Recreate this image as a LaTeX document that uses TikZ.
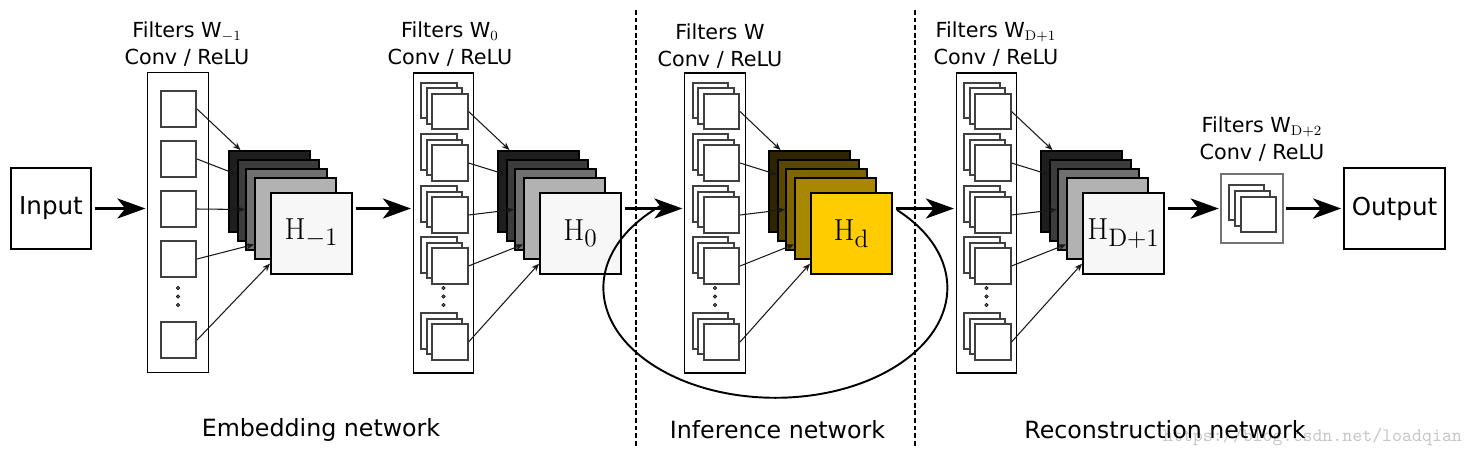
\documentclass[tikz,border=0pt]{standalone}
\usepackage{amssymb,amsmath}
\usepackage[no-math]{fontspec}
\setmainfont{DejaVu Sans}
\usepackage{tikz}
\usetikzlibrary{arrows,arrows.meta,shapes}
\definecolor{g1}{HTML}{1E1E1E}
\definecolor{g2}{HTML}{3C3C3C}
\definecolor{g3}{HTML}{707070}
\definecolor{g4}{HTML}{B2B2B2}
\definecolor{g5}{HTML}{F7F7F7}
\definecolor{y1}{HTML}{2E2500}
\definecolor{y2}{HTML}{5A4800}
\definecolor{y3}{HTML}{806600}
\definecolor{y4}{HTML}{A88800}
\definecolor{y5}{HTML}{FFCC00}
\tikzstyle{io}=[draw,line width=1.3pt,minimum height=1.62cm,inner sep=0pt,font=\fontsize{14}{16}\selectfont]
\tikzstyle{col}=[draw,line width=0.7pt,minimum width=1.21cm,minimum height=6cm,inner sep=0pt]
\tikzstyle{filt}=[draw=black!75,fill=white,line width=0.9pt,minimum size=0.71cm,inner sep=0pt]
\tikzstyle{fmap}=[draw,line width=1.1pt,minimum size=1.62cm,inner sep=0pt,font=\fontsize{19}{21}\selectfont]
\tikzstyle{lbl}=[align=center,inner sep=0pt,font=\fontsize{11.8}{15.3}\selectfont]
\tikzstyle{caption}=[inner sep=0pt,font=\fontsize{13.5}{16}\selectfont]
\tikzstyle{divider}=[draw,line width=0.8pt,dash pattern=on 2.8pt off 1.5pt]

\begin{document}
\begin{tikzpicture}[x=0.02cm,y=-0.02cm]
  \tikzset{flow/.style = {->,>={Stealth[length=16pt,width=11.5pt,inset=4.5pt]},line width=1.2pt,shorten <=1.5pt,shorten >=1pt},
           tap/.style = {->,>={Stealth[length=4.5pt,width=3.6pt]},line width=0.6pt,black!90}}
  \useasboundingbox[fill=white] (0,0) rectangle (1474,457);
  \node[text=black!22,font=\ttfamily\fontsize{10.8}{12}\selectfont] (url) at (1312.5,437) {https://blog.csdn.net/loadqian};
  % input and output
  \node[io,minimum width=1.6cm] (in) at (51,208.5) {Input};
  \node[io,minimum width=2.02cm] (out) at (1394.5,208.5) {Output};
  % filter banks
  \node[col] (c1) at (178,222.5) {};
  \node[col] (c2) at (443.5,223) {};
  \node[col] (c3) at (715,223) {};
  \node[col] (c4) at (986.5,223) {};
  \node[col,draw=black!55,line width=0.6pt,minimum width=1.24cm,minimum height=1.38cm] (c5) at (1252,208.5) {};
  \node[lbl] (l1) at (187,44) {Filters W$_{-1}$\\Conv / ReLU};
  \node[lbl] (l2) at (450,44) {Filters W$_0$\\Conv / ReLU};
  \node[lbl] (l3) at (720,46) {Filters W\\Conv / ReLU};
  \node[lbl] (l4) at (996,44) {Filters W$_{\mathrm{D}+1}$\\Conv / ReLU};
  \node[lbl] (l5) at (1262,139) {Filters W$_{\mathrm{D}+2}$\\Conv / ReLU};
  \foreach \i/\y in {1/109,2/159,3/209,4/259,5/340}
    \node[filt] (f1-\i) at (178.5,\y) {};
  \foreach \c/\x in {2/450,3/721.5,4/993}
    \foreach \i/\y in {1/111.5,2/163,3/215,4/266,5/342} {
      \node[filt] (f\c-\i-1) at (\x-11,\y-11) {};
      \node[filt] (f\c-\i-2) at (\x-5.5,\y-5.5) {};
      \node[filt] (f\c-\i) at (\x,\y) {};
    }
  \node[filt] (f5-1) at (1246.5,202.5) {};
  \node[filt] (f5-2) at (1252.5,208.5) {};
  \node[filt] (f5-3) at (1258.5,214.5) {};
  \foreach \x in {178,443.5,715,986.5}
    \foreach \y in {288,296.5,305}
      \draw[fill=black!60,line width=0.3pt] (\x,\y) circle (1pt);
  % feature maps
  \foreach \s/\x/\p in {1/269.5/g,2/538.5/g,3/809.5/y,4/1081.5/g} {
    \node[fmap,fill=\p1] (m\s-1) at (\x,191.5) {};
    \node[fmap,fill=\p2] (m\s-2) at (\x+9,200.5) {};
    \node[fmap,fill=\p3] (m\s-3) at (\x+17,209.5) {};
    \node[fmap,fill=\p4] (m\s-4) at (\x+26,218.5) {};
  }
  \node[fmap,fill=g5] (m1-5) at (311.5,233.5) {$\mathrm{H}_{-1}$};
  \node[fmap,fill=g5] (m2-5) at (580.5,233.5) {$\mathrm{H}_0$};
  \node[fmap,fill=y5] (m3-5) at (851.5,233.5) {$\mathrm{H}_\mathrm{d}$};
  \node[fmap,fill=g5] (m4-5) at (1123.5,233.5) {$\mathrm{H}_{\mathrm{D}+1}$};
  \foreach \c in {1,...,4} {
    \draw[tap] (f\c-1.east) -- (m\c-1.125);
    \draw[tap] (f\c-2.east) -- (m\c-2.148);
    \draw[tap] (f\c-3.east) -- (m\c-3.west);
    \draw[tap] (f\c-4.east) -- (m\c-4.212);
    \draw[tap] (f\c-5.east) -- (m\c-5.216);
  }
  % main path
  \draw[flow] (in) -- (c1.west |- in);
  \draw[flow] (m1-5.east |- in) -- (c2.west |- in);
  \draw[flow] (m2-5.east |- in) -- (c3.west |- in);
  \draw[flow] (m3-5.east |- in) -- (c4.west |- in);
  \draw[flow] (m4-5.east |- in) -- (c5.west |- in);
  \draw[flow] (c5) -- (out);
  % recursion
  \coordinate (loop) at (897,210);
  \draw[line width=1.1pt] (loop) arc[start angle=-45,end angle=228,x radius=172,y radius=110];
  % parts
  \draw[divider] (636,10) -- (636,448);
  \draw[divider] (915,10) -- (915,448);
  \node[caption] (t1) at (321,430) {Embedding network};
  \node[caption] (t2) at (777.5,430) {Inference network};
  \node[caption] (t3) at (1165,430) {Reconstruction network};
\end{tikzpicture}
\end{document}
